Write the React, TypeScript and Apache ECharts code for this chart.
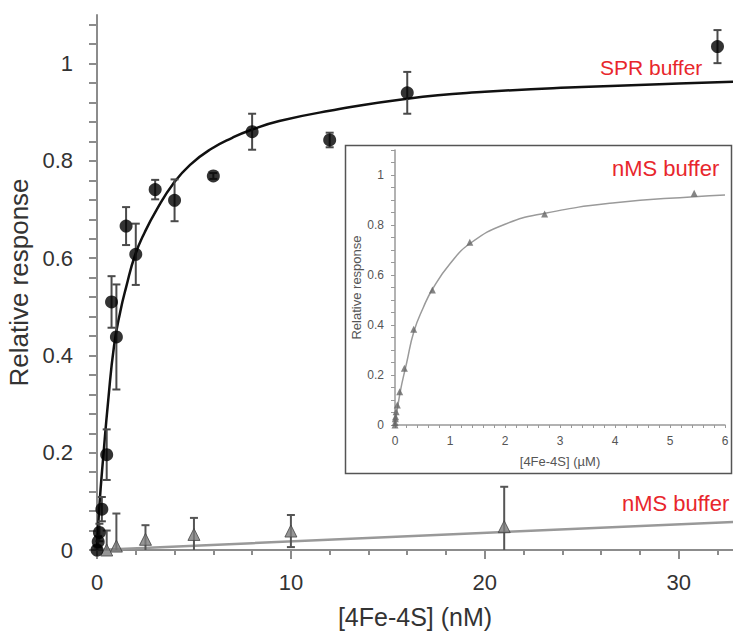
import React, { useEffect, useRef } from "react";
import * as echarts from "echarts";

// ---- Main chart data (nM) ----
const sprX = [0, 0.0625, 0.125, 0.25, 0.5, 0.75, 1, 1.5, 2, 3, 4, 6, 8, 12, 16, 32];
const sprY = [0, 0.017, 0.036, 0.084, 0.196, 0.51, 0.438, 0.666, 0.608, 0.741, 0.719, 0.769, 0.86, 0.843, 0.94, 1.035];
const sprErr = [0.008, 0.012, 0.018, 0.025, 0.052, 0.053, 0.108, 0.039, 0.063, 0.02, 0.043, 0.006, 0.037, 0.015, 0.043, 0.034];

const nmsX = [0.5, 1, 2.5, 5, 10, 21];
const nmsY = [0, 0.008, 0.022, 0.032, 0.039, 0.048];
const nmsErr = [0.04, 0.067, 0.029, 0.034, 0.033, 0.082];

const sprFitX = [0, 0.12, 0.33, 0.58, 0.88, 1.2, 1.5, 1.96, 2.47, 3.08, 3.93, 4.8, 5.9, 7.0, 7.9, 9.4, 12, 16, 20, 25, 30, 32.8];
const sprFitY = [0, 0.089, 0.195, 0.308, 0.42, 0.49, 0.54, 0.606, 0.654, 0.7, 0.753, 0.792, 0.825, 0.848, 0.863, 0.882, 0.903, 0.928, 0.942, 0.952, 0.959, 0.963];

const nmsFitX = [0, 8, 21, 33];
const nmsFitY = [0, 0.014, 0.037, 0.058];

// ---- Inset data (µM) ----
const insetX = [0, 0.0027, 0.0053, 0.0106, 0.021, 0.0425, 0.085, 0.17, 0.34, 0.68, 1.36, 2.72, 5.44];
const insetY = [0, 0.01, 0.025, 0.033, 0.053, 0.08, 0.133, 0.227, 0.383, 0.54, 0.731, 0.844, 0.927];
const insetFitX = [0, 0.09, 0.21, 0.345, 0.515, 0.685, 1.0, 1.376, 2.0, 2.73, 4.0, 5.44, 6.0];
const insetFitY = [0, 0.127, 0.247, 0.375, 0.47, 0.545, 0.645, 0.728, 0.803, 0.847, 0.889, 0.913, 0.92];

// ---- Ticks / labels ----
const mainXLabels = [0, 10, 20, 30];
const mainXMinorTicks = [0, 2, 4, 6, 8, 10, 12, 14, 16, 18, 20, 22, 24, 26, 28, 30, 32];
const mainYLabels = [0, 0.2, 0.4, 0.6, 0.8, 1];
const mainYTicks = [0, 0.04, 0.08, 0.12, 0.16, 0.2, 0.24, 0.28, 0.32, 0.36, 0.4, 0.44, 0.48, 0.52, 0.56, 0.6, 0.64, 0.68, 0.72, 0.76, 0.8, 0.84, 0.88, 0.92, 0.96, 1, 1.04, 1.08];
const insetXLabels = [0, 1, 2, 3, 4, 5, 6];
const insetXTicks = [0, 0.2, 0.4, 0.6, 0.8, 1, 1.2, 1.4, 1.6, 1.8, 2, 2.2, 2.4, 2.6, 2.8, 3, 3.2, 3.4, 3.6, 3.8, 4, 4.2, 4.4, 4.6, 4.8, 5, 5.2, 5.4, 5.6, 5.8, 6];
const insetYLabels = [0, 0.2, 0.4, 0.6, 0.8, 1];
const insetYTicks = [0, 0.05, 0.1, 0.15, 0.2, 0.25, 0.3, 0.35, 0.4, 0.45, 0.5, 0.55, 0.6, 0.65, 0.7, 0.75, 0.8, 0.85, 0.9, 0.95, 1, 1.05, 1.1];

const FONT = "'Liberation Sans', Arial, Helvetica, sans-serif";
const RED = "#e8262c";

function zip(xs: number[], ys: number[]) {
  return xs.map((x, i) => [x, ys[i]]);
}

function errorBarRender(color: string, lw: number) {
  return (params: any, api: any) => {
    const x = api.value(0);
    const y = api.value(1);
    const e = api.value(2);
    const lo = Math.max(0, y - e);
    const top = api.coord([x, y + e]);
    const bot = api.coord([x, lo]);
    const cw = 4;
    const style = { stroke: color, lineWidth: lw };
    const children: any[] = [
      { type: "line", shape: { x1: top[0], y1: top[1], x2: bot[0], y2: bot[1] }, style },
      { type: "line", shape: { x1: top[0] - cw, y1: top[1], x2: top[0] + cw, y2: top[1] }, style },
    ];
    if (y - e > 0) {
      children.push({ type: "line", shape: { x1: bot[0] - cw, y1: bot[1], x2: bot[0] + cw, y2: bot[1] }, style });
    }
    return { type: "group", children };
  };
}

export default function App() {
  const ref = useRef<HTMLDivElement>(null);
  useEffect(() => {
    if (!ref.current) return;
    const chart = echarts.init(ref.current, undefined, { renderer: "svg" });
    const axisGray = "#8c8c8c";
    const option: any = {
      animation: false,
      backgroundColor: "#fff",
      textStyle: { fontFamily: FONT },
      grid: [
        { left: 97, top: 15, right: 0, bottom: 81, containLabel: false, outerBoundsMode: "none" },
        { left: 395, top: 150, right: 8, bottom: 206, containLabel: false, outerBoundsMode: "none" },
      ],
      xAxis: [
        {
          gridIndex: 0,
          type: "value",
          position: "bottom",
          min: 0,
          max: 32.8,
          splitLine: { show: false },
          axisLine: { lineStyle: { color: axisGray, width: 2 } },
          axisTick: { customValues: mainXMinorTicks, length: 5, lineStyle: { color: axisGray, width: 2 } },
          axisLabel: { customValues: mainXLabels, fontSize: 22, color: "#333", margin: 21, fontFamily: FONT },
          name: "[4Fe-4S] (nM)",
          nameLocation: "middle",
          nameGap: 54,
          nameTextStyle: { fontSize: 25, color: "#333", fontFamily: FONT },
        },
        {
          gridIndex: 0,
          type: "value",
          position: "bottom",
          min: 0,
          max: 32.8,
          splitLine: { show: false },
          axisLine: { show: false },
          axisTick: { customValues: mainXLabels, length: 9, lineStyle: { color: axisGray, width: 2 } },
          axisLabel: { show: false },
        },
        {
          gridIndex: 1,
          type: "value",
          min: 0,
          max: 6,
          splitLine: { show: false },
          axisLine: { lineStyle: { color: "#999", width: 1.5 } },
          axisTick: { customValues: insetXTicks, length: 3, lineStyle: { color: "#999" } },
          axisLabel: { customValues: insetXLabels, fontSize: 12, color: "#555", margin: 10, fontFamily: FONT },
          name: "[4Fe-4S] (µM)",
          nameLocation: "middle",
          nameGap: 30,
          nameTextStyle: { fontSize: 13, color: "#555", fontFamily: FONT },
        },
      ],
      yAxis: [
        {
          gridIndex: 0,
          type: "value",
          min: 0,
          max: 1.1,
          splitLine: { show: false },
          axisLine: { lineStyle: { color: axisGray, width: 2 } },
          axisTick: { customValues: mainYTicks, length: 8, lineStyle: { color: axisGray, width: 2 } },
          axisLabel: { customValues: mainYLabels, fontSize: 22, color: "#333", margin: 24, fontFamily: FONT },
          name: "Relative response",
          nameLocation: "middle",
          nameGap: 64,
          nameTextStyle: { fontSize: 26, color: "#333", fontFamily: FONT },
        },
        {
          gridIndex: 1,
          type: "value",
          min: 0,
          max: 1.1,
          splitLine: { show: false },
          axisLine: { lineStyle: { color: "#999", width: 1.5 } },
          axisTick: { customValues: insetYTicks, length: 4, lineStyle: { color: "#999" } },
          axisLabel: { customValues: insetYLabels, fontSize: 12, color: "#555", margin: 11, fontFamily: FONT },
          name: "Relative response",
          nameLocation: "middle",
          nameGap: 31,
          nameTextStyle: { fontSize: 13, color: "#555", fontFamily: FONT },
        },
      ],
      graphic: [
        {
          type: "rect",
          shape: { x: 345.5, y: 145.5, width: 386, height: 328 },
          style: { fill: "rgba(0,0,0,0)", stroke: "#555", lineWidth: 1.5 },
          silent: true,
        },
        {
          type: "text",
          x: 600,
          y: 57,
          style: { text: "SPR buffer", fontSize: 21, fill: RED, fontFamily: FONT },
        },
        {
          type: "text",
          x: 622,
          y: 492,
          style: { text: "nMS buffer", fontSize: 22, fill: RED, fontFamily: FONT },
        },
        {
          type: "text",
          x: 612,
          y: 157,
          style: { text: "nMS buffer", fontSize: 22, fill: RED, fontFamily: FONT },
        },
      ],
      series: [
        {
          type: "line",
          xAxisIndex: 0,
          yAxisIndex: 0,
          data: zip(nmsFitX, nmsFitY),
          showSymbol: false,
          symbol: "none",
          lineStyle: { color: "#999", width: 2.5 },
          z: 2,
        },
        {
          type: "custom",
          xAxisIndex: 0,
          yAxisIndex: 0,
          data: nmsX.map((x, i) => [x, nmsY[i], nmsErr[i]]),
          renderItem: errorBarRender("#555", 2),
          z: 3,
        },
        {
          type: "scatter",
          xAxisIndex: 0,
          yAxisIndex: 0,
          data: zip(nmsX, nmsY),
          symbol: "triangle",
          symbolSize: 12,
          itemStyle: { color: "#7a7a7a", borderColor: "#444", borderWidth: 1 },
          z: 4,
        },
        {
          type: "line",
          xAxisIndex: 0,
          yAxisIndex: 0,
          data: zip(sprFitX, sprFitY),
          smooth: 0.5,
          showSymbol: false,
          symbol: "none",
          lineStyle: { color: "#111", width: 2.5 },
          z: 5,
        },
        {
          type: "custom",
          xAxisIndex: 0,
          yAxisIndex: 0,
          data: sprX.map((x, i) => [x, sprY[i], sprErr[i]]),
          renderItem: errorBarRender("#4a4a4a", 2),
          z: 6,
        },
        {
          type: "scatter",
          xAxisIndex: 0,
          yAxisIndex: 0,
          data: zip(sprX, sprY),
          symbol: "circle",
          symbolSize: 13,
          itemStyle: { color: "#000" },
          z: 7,
        },
        {
          type: "line",
          xAxisIndex: 2,
          yAxisIndex: 1,
          data: zip(insetFitX, insetFitY),
          smooth: 0.5,
          showSymbol: false,
          symbol: "none",
          lineStyle: { color: "#9a9a9a", width: 1.5 },
          z: 5,
        },
        {
          type: "scatter",
          xAxisIndex: 2,
          yAxisIndex: 1,
          data: zip(insetX, insetY),
          symbol: "triangle",
          symbolSize: 7,
          itemStyle: { color: "#666" },
          z: 6,
        },
      ],
    };
    chart.setOption(option);
    return () => chart.dispose();
  }, []);
  return (
    <div
      ref={ref}
      style={{ position: "fixed", left: 0, top: 0, width: 733, height: 631, background: "#fff" }}
    />
  );
}
